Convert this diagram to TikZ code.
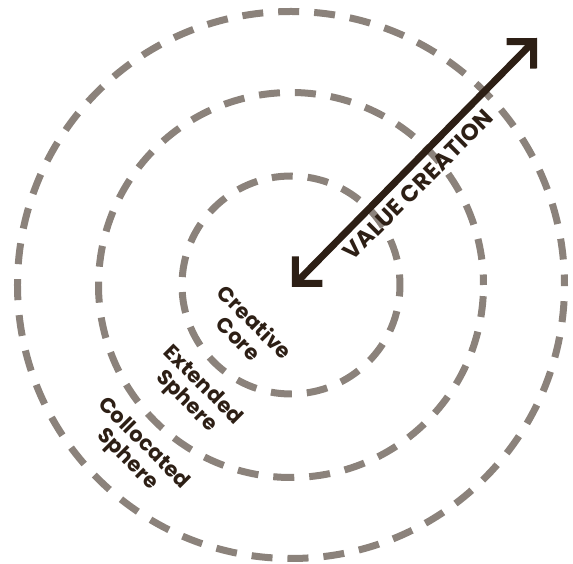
\documentclass[tikz,border=0pt]{standalone}
\usepackage{fontspec}
\setmainfont{Poppins}
\newfontfamily\tagfont{Poppins}[LetterSpace=1]
\newfontfamily\headfont{Poppins}[LetterSpace=2]
\usetikzlibrary{arrows.meta, positioning}
\definecolor{ringgrey}{RGB}{139,130,123}
\definecolor{darkbrown}{RGB}{45,31,21}

\begin{document}
\begin{tikzpicture}[
x=1pt, y=1pt,
ring/.style={draw=ringgrey, line width=7pt, dash pattern=on 21pt off 15pt, dash phase=10.5pt},
tag/.style={text=darkbrown, font=\tagfont\bfseries\fontsize{21}{23}\selectfont, align=center, inner sep=0pt},
arrow/.style={draw=darkbrown, line width=7pt, {Straight Barb[angle=90:27pt, sharp]}-{Straight Barb[angle=90:27pt, sharp]}}
]
\useasboundingbox (-291,-279) rectangle (282,285);
\coordinate (core) at (1,-2);
\coordinate (rim) at (246,247);
\draw[ring] (0,0) circle (109);
\draw[ring] (0,0) circle (192.5);
\draw[ring] (0,0) circle (273.5);
\draw[arrow] (core) -- (rim);
\node[tag, font=\headfont\bfseries\fontsize{23}{25}\selectfont, rotate=45] (value) at (127,100) {VALUE CREATION};
\node[tag, rotate=-45] (creative) at (-44,-45) {Creative\\Core};
\node[tag, rotate=-45] (extended) at (-97,-109) {Extended\\Sphere};
\node[tag, rotate=-45] (collocated) at (-156,-167) {Collocated\\Sphere};
\end{tikzpicture}
\end{document}
